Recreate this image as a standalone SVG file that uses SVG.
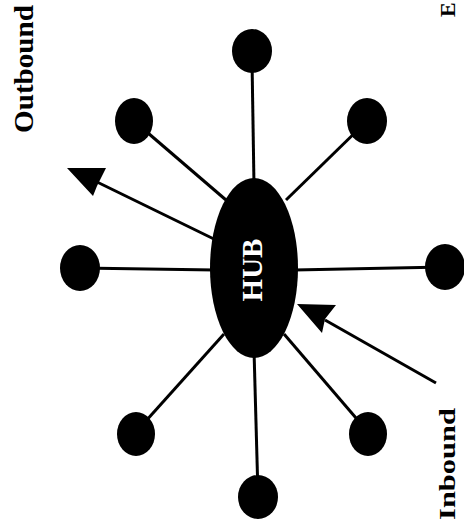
<svg xmlns="http://www.w3.org/2000/svg" width="464" height="527" viewBox="0 0 464 527">
<style>
.ln{stroke:#000;stroke-width:3;fill:none}
.dot{fill:#000}
.lbl{font-family:"Liberation Serif",serif;font-weight:bold;fill:#000}
</style>
<rect width="464" height="527" fill="#fff"/>
<g id="connectors">
<line class="ln" x1="252" y1="60" x2="254" y2="185"/>
<line class="ln" x1="134" y1="121" x2="226" y2="200"/>
<line class="ln" x1="367" y1="121" x2="286" y2="200"/>
<line class="ln" x1="80" y1="268" x2="215" y2="270"/>
<line class="ln" x1="445" y1="267" x2="294" y2="270"/>
<line class="ln" x1="136" y1="432" x2="224" y2="334"/>
<line class="ln" x1="368" y1="432" x2="284" y2="334"/>
<line class="ln" x1="258" y1="495" x2="254" y2="350"/>
<g id="outbound-arrow">
<line class="ln" x1="218" y1="241" x2="95" y2="181"/>
<path d="M67,168 L106,168 L97,186 L93,196 Z" fill="#000"/>
</g>
<g id="inbound-arrow">
<line class="ln" x1="436" y1="383" x2="325" y2="320"/>
<path d="M297,304 L336,305 L325,319 L322,333 Z" fill="#000"/>
</g>
</g>
<g id="hub">
<ellipse cx="254" cy="268" rx="44" ry="90" fill="#000"/>
<text class="lbl" transform="translate(262,270) rotate(-90)" text-anchor="middle" font-size="29" style="fill:#fff">HUB</text>
</g>
<g id="node-top"><ellipse class="dot" cx="252" cy="51" rx="20" ry="22"/></g>
<g id="node-upper-left"><ellipse class="dot" cx="134" cy="121" rx="19" ry="23"/></g>
<g id="node-upper-right"><ellipse class="dot" cx="367" cy="121" rx="20" ry="23"/></g>
<g id="node-left"><ellipse class="dot" cx="80" cy="268" rx="20" ry="23"/></g>
<g id="node-right"><ellipse class="dot" cx="445" cy="267" rx="20" ry="23"/></g>
<g id="node-lower-left"><ellipse class="dot" cx="136" cy="434" rx="19" ry="22"/></g>
<g id="node-lower-right"><ellipse class="dot" cx="368" cy="434" rx="19" ry="22"/></g>
<g id="node-bottom"><ellipse class="dot" cx="258" cy="497" rx="20" ry="22"/></g>
<text class="lbl" transform="translate(33,133) rotate(-90)" font-size="28" textLength="128" lengthAdjust="spacingAndGlyphs">Outbound</text>
<text class="lbl" transform="translate(455,520) rotate(-90)" font-size="24" textLength="112" lengthAdjust="spacingAndGlyphs">Inbound</text>
<text class="lbl" transform="translate(455,17) rotate(-90)" font-size="22">E</text>
</svg>
